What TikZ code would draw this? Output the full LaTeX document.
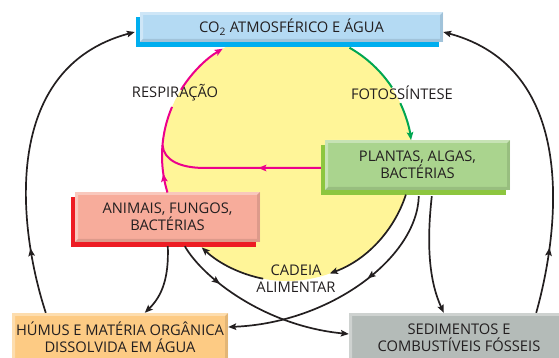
\documentclass[tikz,border=0pt]{standalone}
\usepackage{fontspec}
\setmainfont{Open Sans}
\usetikzlibrary{arrows.meta, shadows, decorations.markings}

\definecolor{azulcaixa}{RGB}{180,218,243}
\definecolor{azulsombra}{RGB}{0,174,239}
\definecolor{verdecaixa}{RGB}{170,212,142}
\definecolor{verdesombra}{RGB}{141,198,63}
\definecolor{rosacaixa}{RGB}{247,172,155}
\definecolor{vermelhosombra}{RGB}{237,28,36}
\definecolor{laranjacaixa}{RGB}{253,203,132}
\definecolor{cinzacaixa}{RGB}{180,187,184}
\definecolor{amarelo}{RGB}{255,245,152}
\definecolor{rosaseta}{RGB}{236,0,140}
\definecolor{verdeseta}{RGB}{0,166,81}
\definecolor{texto}{RGB}{35,31,32}

\tikzset{
  every node/.style={font=\fontsize{14.7}{17}\selectfont, text=texto},
  bisel/.style={path picture={
      \path (path picture bounding box.south west) coordinate (sw)
            (path picture bounding box.north east) coordinate (ne);
      \fill[white, opacity=.35] (sw) |- (ne) -- ([shift={(-3pt,-3pt)}]ne)
            -| ([shift={(3pt,3pt)}]sw) -- cycle;
      \fill[black, opacity=.1] (sw) -| (ne) -- ([shift={(-3pt,-3pt)}]ne)
            |- ([shift={(3pt,3pt)}]sw) -- cycle;
  }},
  caixa/.style={fill=#1, bisel, align=center, inner sep=2pt, minimum height=50pt},
  sombra/.style={drop shadow={shadow xshift=-4pt, shadow yshift=-5pt, fill=#1, opacity=1}},
  ponta/.tip={Stealth[length=8pt,width=6.5pt,inset=1.5pt]},
  seta/.style={line width=1.7pt, texto, -ponta},
  meioseta/.style={postaction={decorate}, decoration={markings,
      mark=at position #1 with {\arrow{ponta}}}},
  resp/.style={line width=2pt, rosaseta},
  foto/.style={line width=2pt, verdeseta}
}

\begin{document}
\begin{tikzpicture}[x=1pt, y=1pt]
  \useasboundingbox (0,0) rectangle (559,358);
  \clip (0,0) rectangle (559,358);

  % ciclo
  \node[circle, fill=amarelo, minimum size=250pt, inner sep=0pt, outer sep=0pt] (ciclo) at (287,202) {};

  % caixas
  \node[caixa=azulcaixa, sombra=azulsombra, minimum width=303pt, minimum height=30pt] (co2) at (291.5,331) {CO\textsubscript{2} ATMOSFÉRICO E ÁGUA};
  \node[caixa=verdecaixa, sombra=verdesombra, minimum width=185pt] (plantas) at (417.5,193) {PLANTAS, ALGAS,\\BACTÉRIAS};
  \node[caixa=rosacaixa, sombra=vermelhosombra, minimum width=185pt] (animais) at (167.5,141) {ANIMAIS, FUNGOS,\\BACTÉRIAS};
  \node[caixa=laranjacaixa, minimum width=216pt, minimum height=49pt] (humus) at (120,20.5) {HÚMUS E MATÉRIA ORGÂNICA\\DISSOLVIDA EM ÁGUA};
  \node[caixa=cinzacaixa, minimum width=220pt, minimum height=49pt] (sedimentos) at (459,20.5) {SEDIMENTOS E\\COMBUSTÍVEIS FÓSSEIS};

  % rotulos
  \node (respiracao) at (175,265) {RESPIRAÇÃO};
  \node (fotossintese) at (402,265) {FOTOSSÍNTESE};
  \node[align=center] (cadeia) at (296,79.5) {CADEIA\\ALIMENTAR};

  % fotossintese e respiracao (interrompidas nos rotulos)
  \draw[foto] (ciclo.60.4) arc[start angle=60.4, end angle=33.5, radius=125pt];
  \draw[foto, -ponta] (ciclo.25.1) arc[start angle=25.1, end angle=7.4, radius=125pt];
  \draw[resp, meioseta=0.22] (ciclo.197) arc[start angle=197, end angle=156.9, radius=125pt];
  \draw[resp, -ponta] (ciclo.148.1) arc[start angle=148.1, end angle=121, radius=125pt];
  \draw[resp, meioseta=0.37] ([shift={(-4pt,-3pt)}]plantas.west) -- ++(-116,0)
    .. controls +(-25,0) and +(1.3,-15) .. (ciclo.175);

  % cadeia alimentar
  \draw[seta] (ciclo.-18) arc[start angle=-18, end angle=-70, radius=125pt];
  \draw[seta] (ciclo.-101) arc[start angle=-101, end angle=-133, radius=125pt];

  % retorno ao CO2
  \draw[seta, meioseta=0.2] ([xshift=34pt]humus.north west) .. controls (18,130) and (0,290) .. ([shift={(-5pt,-5pt)}]co2.west);
  \draw[seta, meioseta=0.2] ([xshift=-33pt]sedimentos.north east) .. controls (560,130) and (578,290) .. ([yshift=-5pt]co2.east);

  % decomposicao
  \draw[seta] ([shift={(93pt,-4pt)}]animais.south west) .. controls (169,80) and (162,62) .. ([xshift=133pt]humus.north west);
  \draw[seta, meioseta=0.27] ([shift={(110pt,-4pt)}]animais.south west) .. controls (203,80) and (265,32) .. ([yshift=3.5pt]sedimentos.west);
  \draw[seta, meioseta=0.4] ([shift={(94pt,-6pt)}]plantas.south west) .. controls (417,100) and (330,35) .. ([yshift=10.5pt]humus.east);
  \draw[seta] ([shift={(107pt,-6pt)}]plantas.south west) .. controls (426,110) and (430,75) .. ([xshift=95pt]sedimentos.north west);
\end{tikzpicture}
\end{document}
